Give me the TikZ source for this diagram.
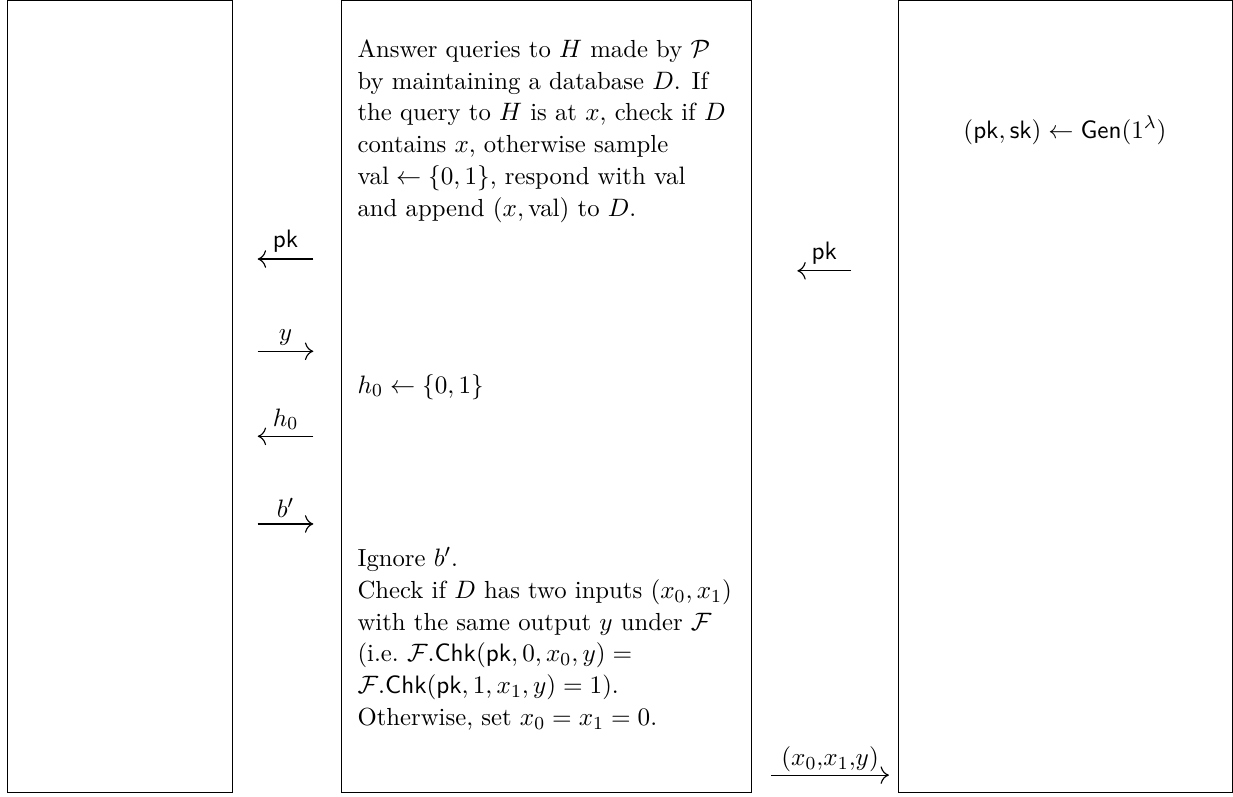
\documentclass[tikz,border=0pt]{standalone}
\usetikzlibrary{arrows.meta}
\tikzset{
  party/.style={draw, anchor=south west, minimum height=12.11cm, inner sep=0pt},
  msg/.style={-{Computer Modern Rightarrow[scale=1.35]}, line width=0.5pt},
  lbl/.style={above, inner sep=2.5pt},
  step text/.style={anchor=north west, align=left, inner sep=0pt},
}
\begin{document}
\begin{tikzpicture}[font=\fontsize{10.75}{13.8}\selectfont]
  \useasboundingbox (0,0) rectangle (18.85,12.17);
  \node[party, minimum width=3.44cm] (adv) at (0.11,0.05) {};
  \node[party, minimum width=6.27cm] (red) at (5.21,0.05) {};
  \node[party, minimum width=5.11cm] (chal) at (13.73,0.05) {};

  \node[step text] (oracle) at (5.46,11.57) {Answer queries to $H$ made by $\mathcal{P}$\\
    by maintaining a database $D$. If\\
    the query to $H$ is at $x$, check if $D$\\
    contains $x$, otherwise sample\\
    $\mathrm{val} \leftarrow \{0,1\}$, respond with $\mathrm{val}$\\
    and append $(x,\mathrm{val})$ to $D$.};
  \node[anchor=base west, inner sep=0pt] (samp) at (5.46,6.16) {$h_0 \leftarrow \{0,1\}$};
  \node[step text] (final) at (5.46,3.81) {Ignore $b'$.\\
    Check if $D$ has two inputs $(x_0,x_1)$\\
    with the same output $y$ under $\mathcal{F}$\\
    (i.e.\ $\mathcal{F}.\mathsf{Chk}(\mathsf{pk},0,x_0,y) =$\\
    $\mathcal{F}.\mathsf{Chk}(\mathsf{pk},1,x_1,y) = 1$).\\
    Otherwise, set $x_0 = x_1 = 0$.};
  \node[anchor=base, inner sep=0pt] (gen) at (16.28,10.06) {$(\mathsf{pk},\mathsf{sk}) \leftarrow \mathsf{Gen}(1^\lambda)$};

  \coordinate (pkR1) at (13.01,8.03); \coordinate (pkR0) at (12.19,8.03);
  \coordinate (pkL1) at (4.79,8.21);  \coordinate (pkL0) at (3.94,8.21);
  \coordinate (yL0) at (3.94,6.80);   \coordinate (yL1) at (4.79,6.80);
  \coordinate (hL1) at (4.79,5.50);   \coordinate (hL0) at (3.94,5.50);
  \coordinate (bL0) at (3.94,4.16);   \coordinate (bL1) at (4.79,4.16);
  \coordinate (outR0) at (11.79,0.32); \coordinate (outR1) at (13.59,0.32);

  \draw[msg] (pkR1) -- node[lbl] {$\mathsf{pk}$} (pkR0);
  \draw[msg] (pkL1) -- node[lbl] {$\mathsf{pk}$} (pkL0);
  \draw[msg] (yL0) -- node[lbl] {$y$} (yL1);
  \draw[msg] (hL1) -- node[lbl] {$h_0$} (hL0);
  \draw[msg] (bL0) -- node[lbl] {$b'$} (bL1);
  \draw[msg] (outR0) -- node[lbl, inner sep=1pt] {$(x_0{,}x_1{,}y)$} (outR1);
\end{tikzpicture}
\end{document}
